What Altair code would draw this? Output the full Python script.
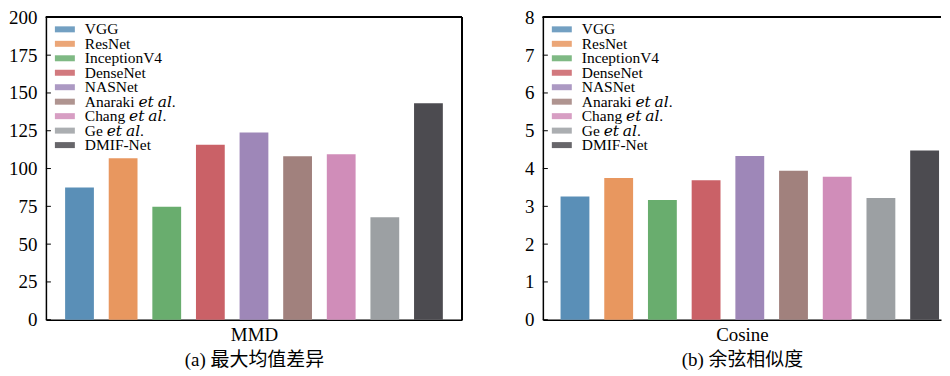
import altair as alt
import pandas as pd

models = ["VGG", "ResNet", "InceptionV4", "DenseNet", "NASNet",
          "Anaraki 𝑒𝑡 𝑎𝑙.", "Chang 𝑒𝑡 𝑎𝑙.", "Ge 𝑒𝑡 𝑎𝑙.", "DMIF-Net"]
colors = ["#5a8fb7", "#e8975f", "#69ad6e", "#ca6167", "#9e87b8",
          "#a1817d", "#d08db9", "#9ca0a3", "#4c4b50"]
mmd = [87.5, 106.8, 74.8, 115.8, 123.9, 108.2, 109.5, 67.8, 143.2]
cosine = [3.26, 3.75, 3.17, 3.69, 4.33, 3.94, 3.78, 3.22, 4.48]
mmd_ticks = [0, 25, 50, 75, 100, 125, 150, 175, 200]
cos_ticks = [0, 1, 2, 3, 4, 5, 6, 7, 8]

FONT = "Liberation Serif, DejaVu Serif, Noto Sans CJK SC"
H = 303


def panel(values, ticks, ymax, metric, caption, width, xscale, full_frame):
    df = pd.DataFrame({"model": models, "value": values})
    tdf = pd.DataFrame({"t": ticks})
    ldf = pd.DataFrame({"model": models})
    color = alt.Color("model:N", sort=models,
                      scale=alt.Scale(domain=models, range=colors),
                      legend=None)
    bars = alt.Chart(df).mark_bar().encode(
        x=alt.X("model:N", sort=models, scale=xscale,
                axis=alt.Axis(labels=False, ticks=False, domain=True,
                              domainColor="black", domainWidth=1.5,
                              title=[metric, caption], titleFont=FONT,
                              titleFontSize=19, titleFontWeight="normal",
                              titleColor="black", titlePadding=6,
                              titleLineHeight=24.5)),
        y=alt.Y("value:Q", scale=alt.Scale(domain=[0, ymax], nice=False),
                axis=alt.Axis(values=ticks, ticks=False, domain=True,
                              domainColor="black", domainWidth=1.5,
                              grid=False, title=None, labelFont=FONT,
                              labelFontSize=19, labelColor="black",
                              labelPadding=9, labelOverlap=False)),
        color=color,
    )
    tick_marks = alt.Chart(tdf).mark_rule(color="black", strokeWidth=1).encode(
        y=alt.Y("t:Q", scale=alt.Scale(domain=[0, ymax], nice=False),
                axis=None),
        x=alt.value(0), x2=alt.value(5),
    )
    top = alt.Chart(tdf).mark_rule(color="black", strokeWidth=1.5).encode(
        x=alt.value(0), x2=alt.value(width), y=alt.value(0)
    )
    ly = alt.Y("model:N", sort=models,
               scale=alt.Scale(type="point", range=[12, 128], padding=0),
               axis=None)
    swatches = alt.Chart(ldf).mark_point(
        shape="M-1,-0.3H1V0.3H-1Z", size=400, filled=True, opacity=0.85,
        strokeWidth=0,
    ).encode(x=alt.value(19), y=ly, color=color)
    labels = alt.Chart(ldf).mark_text(
        align="left", baseline="middle", font=FONT, fontSize=15.5,
        color="black",
    ).encode(x=alt.value(39), y=ly, text="model:N")
    layers = [bars, tick_marks, top, swatches, labels]
    if full_frame:
        side = alt.Chart(tdf).mark_rule(color="black", strokeWidth=1.5).encode(
            x=alt.value(width), y=alt.value(0), y2=alt.value(H)
        )
        layers.append(side)
    return alt.layer(*layers).resolve_scale(y="independent").properties(
        width=width, height=H)


left = panel(mmd, mmd_ticks, 200, "MMD", "(a) 最大均值差异", 417,
             alt.Scale(paddingInner=0.34, paddingOuter=0.44), True)
right = panel(cosine, cos_ticks, 8, "Cosine", "(b) 余弦相似度", 399,
              alt.Scale(paddingInner=0.34, paddingOuter=0.225, align=0.9),
              False)

chart = alt.hconcat(left, right, spacing=61).configure_view(
    strokeWidth=0
).properties(padding=0, background="white")

chart.save("out.html", embed_options={"renderer": "svg", "actions": False})
